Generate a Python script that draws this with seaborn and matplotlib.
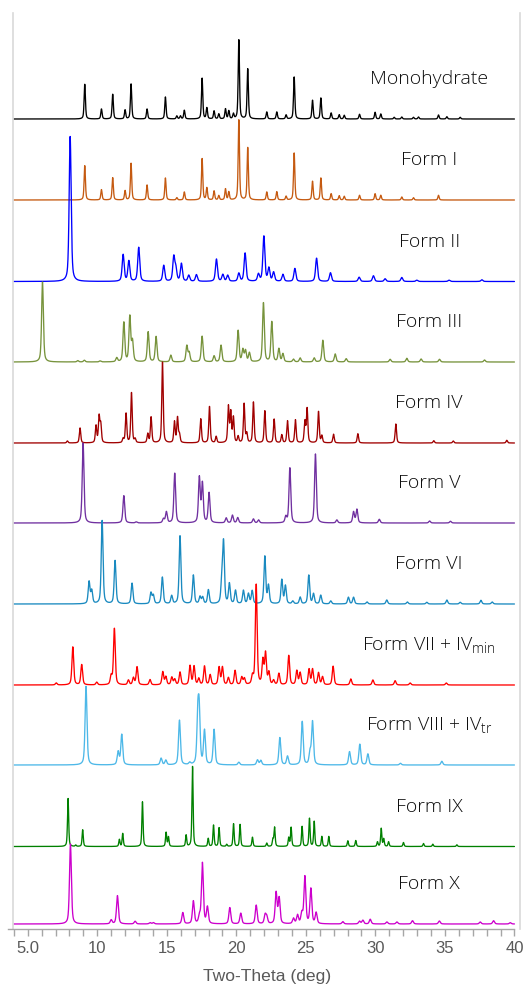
import numpy as np
import pandas as pd
import matplotlib
matplotlib.use("Agg")
import matplotlib.pyplot as plt
import seaborn as sns

# ---------------- data (peak positions in deg 2-theta, relative heights) -------------
forms = ["Monohydrate", "Form I", "Form II", "Form III", "Form IV", "Form V", "Form VI",
         "Form VII + IV$_{\\mathrm{min}}$", "Form VIII + IV$_{\\mathrm{tr}}$", "Form IX", "Form X"]

mono_pos = [9.10, 10.30, 11.11, 12.00, 12.43, 13.58, 14.90, 15.72, 15.98, 16.26, 17.54, 17.88, 18.40,
            18.74, 19.22, 19.46, 19.79, 20.18, 20.82, 22.19, 22.91, 23.58, 24.16, 25.48, 26.08, 26.82,
            27.40, 27.76, 28.86, 29.98, 30.39, 31.35, 31.90, 32.74, 33.10, 34.54, 35.14, 36.10]
mono_int = [34.7, 10, 24.7, 9, 35, 10, 22, 3, 3, 8.7, 40.7, 11, 8, 5, 10, 8, 5, 79, 50, 7, 7, 4, 42,
            18.7, 21, 6, 4.3, 3.7, 4.7, 6.7, 5, 1.7, 2, 1.7, 2, 4, 2.3, 1.7]

f1_pos = [9.10, 10.30, 11.11, 12.00, 12.43, 13.58, 14.90, 15.72, 16.26, 17.54, 17.88, 18.40, 18.74,
          19.22, 19.46, 20.18, 20.82, 22.19, 22.91, 23.58, 24.16, 25.48, 26.08, 26.82, 27.40, 27.76,
          28.86, 29.98, 30.39, 31.90, 32.74, 34.54]
f1_int = [34.3, 10.3, 22.3, 9.3, 36.7, 15, 22, 2.3, 8, 41.3, 12, 9, 4.3, 11, 8, 80, 52.3, 8, 8.3, 3.7,
          47, 18.7, 22, 6.3, 4.3, 3.7, 4.7, 6.3, 4.7, 3, 2.3, 4.7]

f2_pos = [8.05, 11.86, 12.27, 12.98, 14.78, 15.50, 15.65, 16.05, 16.58, 17.13, 18.57, 19.03, 19.38,
          20.18, 20.63, 21.59, 21.98, 22.34, 22.68, 23.35, 24.21, 25.77, 26.77, 28.83, 29.86, 30.70,
          31.90, 32.98, 35.30, 37.66]
f2_int = [145, 26.7, 20.3, 34, 16, 24, 12, 17.7, 6, 6.7, 22.3, 6.7, 6, 8, 28.3, 7, 45, 13, 9, 7, 13,
          23.3, 8.7, 4.3, 5.7, 2.7, 4, 1.3, 1.3, 1.7]

f3_pos = [6.06, 8.60, 9.07, 10.20, 11.40, 11.91, 12.34, 12.53, 13.66, 14.23, 15.29, 16.44, 16.61,
          17.54, 18.40, 18.90, 20.13, 20.47, 20.66, 20.94, 21.95, 22.55, 23.06, 23.35, 24.11, 24.59,
          25.60, 26.22, 27.11, 27.90, 31.06, 32.26, 33.29, 34.61, 37.85]
f3_int = [80, 1.3, 1.7, 1, 4, 39.3, 45, 20, 30, 25.3, 6.7, 16, 9, 25.7, 6, 16.7, 31.3, 12, 11, 9,
          59, 40, 13, 8, 2.7, 4, 4, 21.7, 8, 3.3, 2.7, 3.7, 3, 2.7, 2]

f4_pos = [7.85, 8.76, 9.91, 10.13, 10.25, 11.86, 12.07, 12.46, 12.72, 13.63, 13.87, 14.69, 15.55,
          15.77, 15.91, 17.44, 18.07, 18.55, 19.43, 19.60, 19.79, 20.13, 20.56, 20.75, 21.23, 22.05,
          22.72, 23.27, 23.68, 24.25, 24.93, 25.09, 25.91, 26.15, 26.99, 28.74, 31.47, 34.20, 35.60,
          39.45]
f4_int = [2, 15, 17, 26, 18, 4, 29.3, 50, 3.7, 9, 25.7, 80.7, 21, 25, 8, 24, 36.3, 6.3, 36, 30, 25,
          6.3, 39, 9, 40.7, 32, 23.7, 8, 22, 23, 21, 34, 31.3, 7, 8.7, 9.3, 19, 2.3, 2, 2.7]

f5_pos = [8.98, 11.91, 12.80, 14.76, 14.97, 15.57, 17.34, 17.56, 18.04, 19.27, 19.72, 20.10, 21.23,
          21.60, 23.56, 23.85, 25.69, 27.23, 28.43, 28.67, 30.28, 33.90, 35.40]
f5_int = [80, 27.3, 1, 4, 11, 49.7, 45, 39, 30, 5, 7.7, 5.3, 4, 3, 6, 55, 69, 3, 11, 13.5, 3.7, 2, 1.7]

f6_pos = [9.41, 9.60, 10.35, 11.28, 12.50, 13.86, 14.03, 14.68, 15.35, 15.95, 16.91, 17.39, 17.58,
          17.99, 18.95, 19.08, 19.50, 19.94, 20.51, 20.87, 21.14, 22.05, 22.31, 23.27, 23.53, 24.06,
          24.59, 25.21, 25.55, 26.07, 26.79, 28.06, 28.43, 29.40, 30.82, 32.30, 33.70, 35.14, 36.10,
          37.59, 38.40]
f6_int = [22, 13, 83.3, 43.3, 20.7, 11, 8.5, 26.7, 8, 68, 28.7, 7, 6.5, 14, 20, 61, 20, 13.3, 13.3,
          10, 13, 47.3, 18, 24, 18, 2.7, 6.7, 28.7, 10, 8.7, 3, 6.7, 6.7, 2, 4, 2, 1.7, 4, 1.7, 3.7, 2]

f7_pos = [7.05, 8.24, 8.88, 9.96, 11.00, 11.23, 12.24, 12.60, 12.86, 13.79, 14.71, 14.93, 15.36,
          15.57, 15.95, 16.67, 16.96, 17.30, 17.71, 18.12, 18.76, 19.00, 19.43, 19.91, 20.39, 20.58,
          21.16, 21.43, 21.91, 22.10, 22.34, 22.68, 23.06, 23.77, 24.35, 24.59, 25.23, 25.48, 25.91,
          26.20, 26.96, 28.23, 29.82, 31.42, 32.50, 35.10]
f7_int = [2, 38, 20.3, 2.7, 8.5, 56.3, 4.7, 7, 18, 5.3, 13, 8, 7.5, 5.5, 12.7, 19, 18.5, 6.2,
          18.7, 10, 17.5, 17.5, 7, 14.3, 7.5, 6.2, 8, 100, 24, 31, 12, 4.3, 11.3, 29.3, 14, 12,
          15.5, 15.5, 12, 8, 18.7, 6, 5, 4.3, 2, 2]

f8_pos = [9.19, 11.50, 11.76, 14.59, 14.93, 15.91, 16.65, 17.23, 17.33, 17.71, 18.40, 20.18, 21.52,
          21.76, 23.13, 23.68, 24.74, 25.30, 25.48, 28.14, 28.88, 29.46, 31.80, 34.78]
f8_int = [78.7, 13, 30.3, 6.7, 4.7, 44.7, 2, 46, 49, 34, 35.3, 2.7, 5, 4.5, 27.3, 8.7, 43.3, 12,
          43, 13.3, 20.7, 11, 1.7, 3.7]

f9_pos = [7.90, 8.45, 8.95, 11.59, 11.83, 13.25, 14.95, 15.12, 16.39, 16.85, 17.98, 18.36, 18.76,
          19.31, 19.80, 20.27, 21.16, 22.19, 22.63, 22.75, 23.77, 23.94, 24.73, 25.26, 25.60, 26.15,
          26.65, 28.02, 28.59, 30.15, 30.42, 30.60, 30.95, 32.02, 33.46, 34.13, 35.86]
f9_int = [48, 1.3, 16.7, 7, 13, 44.7, 14, 9.5, 11.3, 80, 8, 21.3, 18.7, 2, 22.7, 22, 9.3, 3.3,
          7, 19, 8.7, 19, 20, 28, 25, 10, 10, 5.7, 6, 4.5, 18, 7.5, 4.7, 4, 3, 2.3, 1.7]

f10_pos = [8.07, 11.00, 11.45, 12.72, 13.80, 14.04, 16.15, 16.91, 17.35, 17.56, 17.92, 19.53, 20.32,
           21.43, 22.07, 22.19, 22.86, 23.08, 24.11, 24.40, 24.71, 24.93, 25.36, 25.74, 27.66, 28.86,
           29.10, 29.63, 30.83, 31.55, 32.67, 34.60, 37.54, 38.50, 39.70]
f10_int = [80, 4, 28.3, 2.7, 1.3, 1.3, 11.3, 22.7, 7, 60.7, 16.5, 16.3, 10.7, 18.7, 8.5, 6.5, 31, 25.5,
           5.3, 8.5, 10, 47, 35, 11, 2.3, 2.7, 3.7, 4.7, 2, 2, 3.3, 3, 2, 3.3, 1.3]

peak_positions = [mono_pos, f1_pos, f2_pos, f3_pos, f4_pos, f5_pos, f6_pos, f7_pos, f8_pos, f9_pos, f10_pos]
peak_heights = [mono_int, f1_int, f2_int, f3_int, f4_int, f5_int, f6_int, f7_int, f8_int, f9_int, f10_int]

# ---------------- styling -------------------
offsets = [809.5, 728.5, 647, 566.5, 485.5, 405.5, 324.5, 243.5, 163.5, 82, 4.5]
colors = ["#000000", "#C55A11", "#0000FF", "#77933C", "#A00000", "#7030A0", "#1A8AC0",
          "#FF0000", "#4DB8E8", "#008000", "#CC00CC"]
fwhm = [0.11, 0.11, 0.17, 0.15, 0.12, 0.15, 0.15, 0.15, 0.16, 0.10, 0.16]

two_theta = np.arange(4.0, 40.0001, 0.01)


def pattern(pos, hts, w, eta=0.5):
    y = np.zeros_like(two_theta)
    for p, h in zip(pos, hts):
        d = (two_theta - p) / (w / 2)
        lor = 1.0 / (1.0 + d ** 2)
        gau = np.exp(-np.log(2) * d ** 2)
        y += h * (eta * lor + (1 - eta) * gau)
    return y


sns.set_theme(style="white")
plt.rcParams["font.family"] = ["Liberation Sans", "DejaVu Sans"]
plt.rcParams["mathtext.fontset"] = "custom"
plt.rcParams["mathtext.rm"] = "Open Sans:light"
plt.rcParams["mathtext.it"] = "Open Sans:light"

fig = plt.figure(figsize=(5.29, 9.84), dpi=100)
ax = fig.add_axes([13.3 / 529, 1 - 928.5 / 984, (520 - 13.3) / 529, (928.5 - 13) / 984])

for i, name in enumerate(forms):
    y = pattern(peak_positions[i], peak_heights[i], fwhm[i]) + offsets[i]
    df = pd.DataFrame({"two_theta": two_theta, "intensity": y})
    sns.lineplot(data=df, x="two_theta", y="intensity", ax=ax, color=colors[i],
                 linewidth=0.95, estimator=None, sort=False)
    ax.text(33.87, offsets[i] + 35, name, ha="center", va="baseline",
            fontsize=14, color="#0d0d0d", fontweight="light",
            family=["Open Sans", "DejaVu Sans"])

ax.set_xlim(3.96, 40.4)
ax.set_ylim(0, 915.5)
ax.set_xticks(np.arange(5, 41, 5))
ax.set_xticklabels(["5.0", "10", "15", "20", "25", "30", "35", "40"])
ax.set_xticks(np.arange(4, 41, 1), minor=True)
ax.set_yticks([])
ax.tick_params(axis="x", which="both", direction="out", length=5, width=1,
               color="#a6a6a6", labelcolor="#595959", labelsize=12, pad=4, bottom=True)
ax.set_xlabel("Two-Theta (deg)", fontsize=12.6, color="#595959", labelpad=9)
ax.set_ylabel("")

for s in ["left", "right"]:
    ax.spines[s].set_color("#d9d9d9")
    ax.spines[s].set_linewidth(1.2)
ax.spines["top"].set_visible(False)
ax.spines["bottom"].set_color("#a6a6a6")
ax.spines["bottom"].set_linewidth(1)
ax.spines["bottom"].set_bounds(3.6, 40)
ax.spines["bottom"].set_clip_on(False)

fig.savefig("out.png", dpi=100)
